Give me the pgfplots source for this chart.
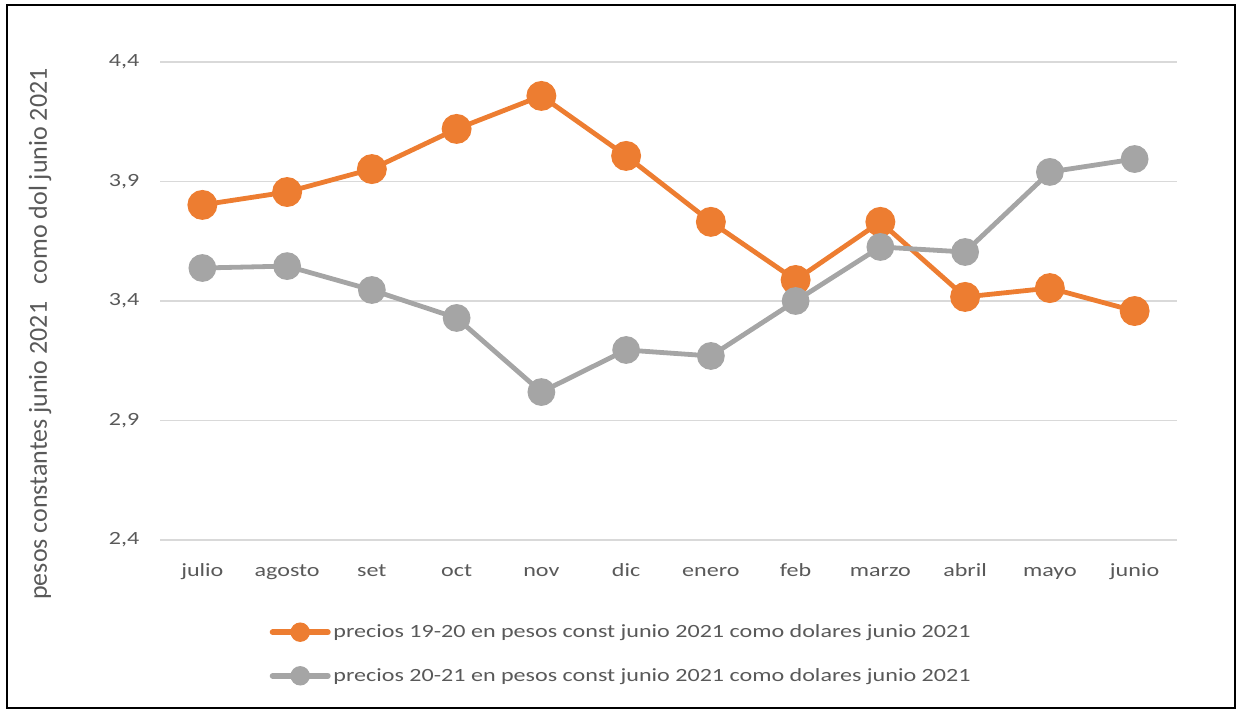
\documentclass[border=0pt]{standalone}
\usepackage{pgfplots}
\pgfplotsset{compat=1.18}
\usepackage{fontspec}
\setmainfont{Carlito}
\newfontfamily\widefont[FakeStretch=1.29]{Carlito}
\definecolor{orng}{HTML}{ED7D31}
\definecolor{gry}{HTML}{A5A5A5}
\definecolor{txt}{HTML}{595959}
\definecolor{gridc}{HTML}{D9D9D9}
\begin{document}
\begin{tikzpicture}[x=0.75pt,y=0.75pt]
\useasboundingbox (0,0) rectangle (1242,713);
\draw[line width=1.1pt] (7,5) rectangle (1235,708);
\begin{axis}[
  at={(120pt,129.75pt)}, anchor=south west,
  scale only axis, width=762.75pt, height=358.5pt,
  xmin=-0.5, xmax=11.5, ymin=2.4, ymax=4.4,
  ytick={2.4,2.9,3.4,3.9,4.4},
  xtick={0,...,11},
  xticklabels={julio,agosto,set,oct,nov,dic,enero,feb,marzo,abril,mayo,junio},
  axis line style={draw=none}, major tick length=0pt,
  ymajorgrids, grid style={gridc, line width=0.9pt},
  /pgf/number format/.cd, use comma, fixed, precision=1, fixed zerofill, assume math mode=true,
  /pgfplots/.cd,
  ticklabel style={font=\widefont\fontsize{14}{16}\selectfont, text=txt},
  xticklabel style={anchor=base, yshift=-27.75pt},
  yticklabel style={anchor=east, xshift=-12pt},
  ylabel={pesos constantes junio 2021\ \ \ como dol junio 2021},
  ylabel style={at={(rel axis cs:-0.118,0.431)}, anchor=center, font=\fontsize{19.5}{21}\selectfont, text=txt},
  legend style={at={(rel axis cs:0.4538,-0.2385)}, anchor=center, draw=none, fill=none,
    font=\widefont\fontsize{14}{16}\selectfont, text=txt, row sep=17.5pt, inner sep=0pt},
  legend cell align=left,
  legend image code/.code={\draw[mark repeat=2,mark phase=2, mark size=5pt, line width=4.5pt, line cap=round] plot coordinates {(0pt,0pt) (20.6pt,0pt) (41.25pt,0pt)};},
]
\addplot[orng, line width=3.6pt, mark=*, mark size=9.4pt, mark options={solid}] coordinates {
(0,3.802) (1,3.856) (2,3.952) (3,4.120) (4,4.258) (5,4.007) (6,3.731) (7,3.488) (8,3.731) (9,3.417) (10,3.454) (11,3.358)};
\addlegendentry{precios 19-20 en pesos const junio 2021 como dolares junio 2021}
\addplot[gry, line width=3.6pt, mark=*, mark size=8.6pt, mark options={solid}] coordinates {
(0,3.538) (1,3.546) (2,3.446) (3,3.329) (4,3.019) (5,3.195) (6,3.170) (7,3.400) (8,3.626) (9,3.605) (10,3.940) (11,3.994)};
\addlegendentry{precios 20-21 en pesos const junio 2021 como dolares junio 2021}
\end{axis}
\end{tikzpicture}
\end{document}
